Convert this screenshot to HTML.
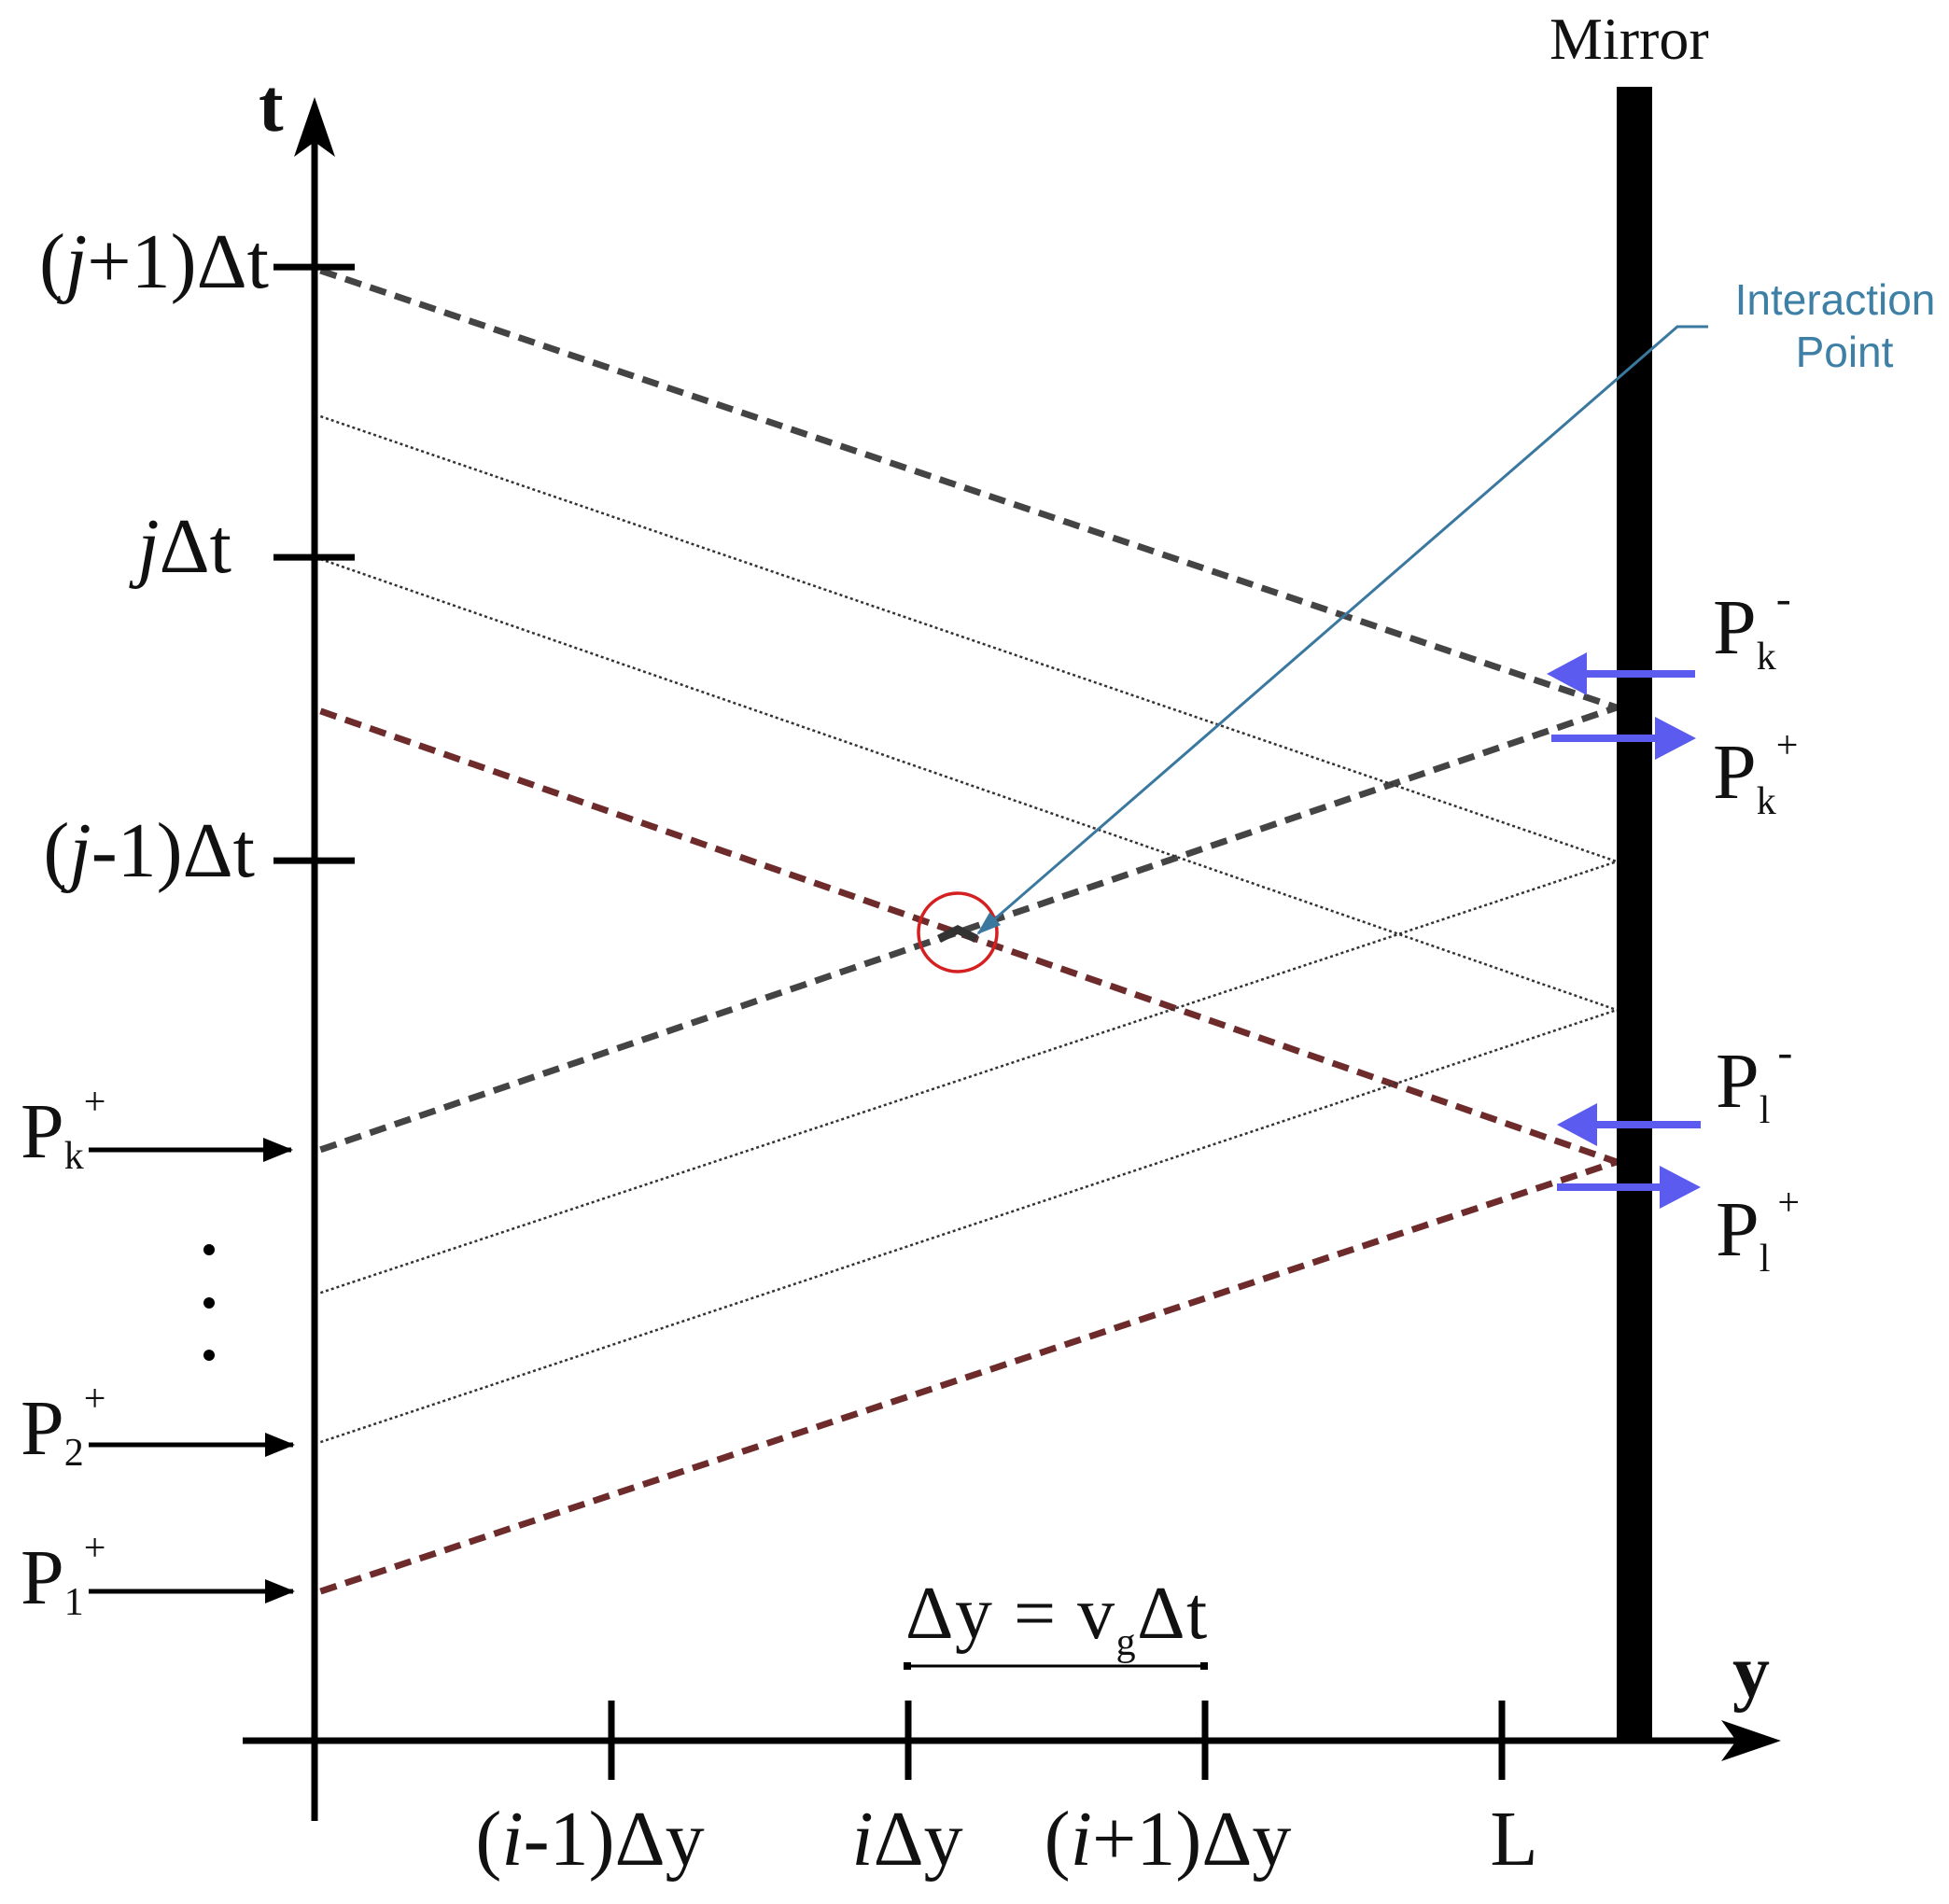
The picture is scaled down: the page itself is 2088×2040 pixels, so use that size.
<!DOCTYPE html>
<html><head><meta charset="utf-8"><style>
html,body{margin:0;padding:0;background:#fff;}
svg{display:block;}
.tm{font-family:"Liberation Serif",serif;fill:#111;}
</style></head><body>
<svg id="chart" width="2088" height="2040" viewBox="0 0 2088 2040" xmlns="http://www.w3.org/2000/svg">
<defs>
<marker id="ah" markerWidth="32" markerHeight="26" refX="30" refY="13" orient="auto" markerUnits="userSpaceOnUse"><path d="M0,0 L32,13 L0,26 z" fill="#000"/></marker>
<marker id="ahb" markerWidth="26" markerHeight="18" refX="24" refY="9" orient="auto" markerUnits="userSpaceOnUse"><path d="M0,0 L26,9 L0,18 z" fill="#3a78a0"/></marker>
</defs>
<g id="marks"></g>
<line x1="337" y1="1951" x2="337" y2="140" stroke="#000" stroke-width="7"/>
<path d="M337,104 L315,168 L337,152 L359,168 z" fill="#000"/>
<line x1="260" y1="1865" x2="1870" y2="1865" stroke="#000" stroke-width="7"/>
<path d="M1908,1865 L1844,1843 L1860,1865 L1844,1887 z" fill="#000"/>
<rect x="1732" y="93" width="38" height="1772" fill="#000"/>
<g id="ticks"></g>
<text class="tm" x="277" y="140" font-size="80" font-weight="bold">t</text>
<text class="tm" x="1856" y="1818" font-size="80" font-weight="bold">y</text>
<text class="tm" x="1660" y="63" font-size="64">Mirror</text>
<text class="tm" x="288" y="308" font-size="84" text-anchor="end">(<tspan font-style="italic">j</tspan>+1)Δt</text>
<text class="tm" x="248" y="613" font-size="84" text-anchor="end"><tspan font-style="italic">j</tspan>Δt</text>
<text class="tm" x="273" y="939" font-size="84" text-anchor="end">(<tspan font-style="italic">j</tspan>-1)Δt</text>
<text class="tm" x="632" y="1998" font-size="84" text-anchor="middle">(<tspan font-style="italic">i</tspan>-1)Δy</text>
<text class="tm" x="972" y="1998" font-size="84" text-anchor="middle"><tspan font-style="italic">i</tspan>Δy</text>
<text class="tm" x="1251" y="1998" font-size="84" text-anchor="middle">(<tspan font-style="italic">i</tspan>+1)Δy</text>
<text class="tm" x="1622" y="1998" font-size="84" text-anchor="middle">L</text>
<text class="tm" x="970" y="1755" font-size="80" letter-spacing="1.5">Δy = v<tspan font-size="42" dy="18">g</tspan><tspan dy="-18">Δt</tspan></text>
<line x1="972" y1="1785" x2="1290" y2="1785" stroke="#000" stroke-width="3"/>
<rect x="968" y="1781" width="8" height="8" fill="#000"/>
<rect x="1286" y="1781" width="8" height="8" fill="#000"/>
<text class="tm" x="22" y="1240" font-size="84">P<tspan font-size="42" dy="12">k</tspan><tspan font-size="42" dx="0" dy="-58">+</tspan></text>
<line x1="95" y1="1232" x2="312" y2="1232" stroke="#000" stroke-width="5" marker-end="url(#ah)"/>
<text class="tm" x="22" y="1558" font-size="84">P<tspan font-size="42" dy="12">2</tspan><tspan font-size="42" dx="0" dy="-58">+</tspan></text>
<line x1="95" y1="1548" x2="314" y2="1548" stroke="#000" stroke-width="5" marker-end="url(#ah)"/>
<text class="tm" x="22" y="1718" font-size="84">P<tspan font-size="42" dy="12">1</tspan><tspan font-size="42" dx="0" dy="-58">+</tspan></text>
<line x1="95" y1="1705" x2="314" y2="1705" stroke="#000" stroke-width="5" marker-end="url(#ah)"/>
<circle cx="224" cy="1339" r="6" fill="#000"/>
<circle cx="224" cy="1396" r="6" fill="#000"/>
<circle cx="224" cy="1452" r="6" fill="#000"/>
<g fill="#5b5bef" stroke="none">
<path d="M1816,718 L1700,718 L1700,699 L1657,722 L1700,745 L1700,726 L1816,726 z"/>
<path d="M1662,787 L1773,787 L1773,768 L1817,791 L1773,814 L1773,795 L1662,795 z"/>
<path d="M1822,1201 L1711,1201 L1711,1182 L1668,1205 L1711,1228 L1711,1209 L1822,1209 z"/>
<path d="M1668,1268 L1778,1268 L1778,1249 L1822,1272 L1778,1295 L1778,1276 L1668,1276 z"/>
</g>
<text class="tm" x="1835" y="700" font-size="84">P<tspan font-size="42" dy="17">k</tspan><tspan font-size="48" dx="0" dy="-60">-</tspan></text>
<text class="tm" x="1835" y="855" font-size="84">P<tspan font-size="42" dy="17">k</tspan><tspan font-size="42" dx="0" dy="-60">+</tspan></text>
<text class="tm" x="1838" y="1186" font-size="84">P<tspan font-size="42" dy="17">l</tspan><tspan font-size="48" dx="8" dy="-60">-</tspan></text>
<text class="tm" x="1838" y="1345" font-size="84">P<tspan font-size="42" dy="17">l</tspan><tspan font-size="42" dx="8" dy="-60">+</tspan></text>
<circle cx="1026" cy="999" r="42" fill="none" stroke="#d42020" stroke-width="3.5"/>
<path d="M1006,1006 L1026,996 L1046,1006" fill="none" stroke="#333" stroke-width="9"/>
<polyline points="1830,350 1797,350 1048,1000" fill="none" stroke="#3a78a0" stroke-width="3" marker-end="url(#ahb)"/>
<text x="1966" y="337" font-size="46" text-anchor="middle" font-family="Liberation Sans, sans-serif" fill="#3e7fa6">Interaction</text>
<text x="1976" y="393" font-size="46" text-anchor="middle" font-family="Liberation Sans, sans-serif" fill="#3e7fa6">Point</text>
</svg>
<script>
const lineStartY = [0.02, 0.02, 0.02, 0.02, 0.02, 0.02, 0.02, 0.02];
const lineEndY   = [4.387, 4.387, 4.387, 4.387, 4.387, 4.387, 4.387, 4.387];
const lineStartT = [4.953, 1.991, 3.469, 0.503, 4.462, 3.981, 1.509, 1.006];
const lineEndT   = [3.481, 3.481, 1.950, 1.950, 2.962, 2.462, 2.962, 2.462];
const lineKind   = ["gray", "gray", "red", "red", "dot", "dot", "dot", "dot"];
const lineNames  = ["pk-reflected", "pk-incident", "p1-reflected", "p1-incident", "dotted-reflected-1", "dotted-reflected-2", "dotted-incident-1", "dotted-incident-2"];
const yTicks = [1, 2, 3, 4];
const tTicks = [4.965, 3.987, 2.965];

const X0 = 337, Y0 = 1865, SX = 318, ST = 318;
function xs(v){ return X0 + v * SX; }
function ts(v){ return Y0 - v * ST; }
const NS = "http://www.w3.org/2000/svg";
const marks = document.getElementById('marks');
const styles = {
  gray: {stroke:"#444", w:7, dash:"18 10"},
  red:  {stroke:"#6e2b2b", w:7, dash:"18 10"},
  dot:  {stroke:"#333", w:2.5, dash:"3 3"}
};
for (let i = 0; i < lineStartY.length; i++) {
  const s = styles[lineKind[i]];
  const l = document.createElementNS(NS, 'line');
  l.setAttribute('x1', xs(lineStartY[i]));
  l.setAttribute('y1', ts(lineStartT[i]));
  l.setAttribute('x2', xs(lineEndY[i]));
  l.setAttribute('y2', ts(lineEndT[i]));
  l.setAttribute('stroke', s.stroke);
  l.setAttribute('stroke-width', s.w);
  l.setAttribute('stroke-dasharray', s.dash);
  
  
  marks.appendChild(l);
}
const ticks = document.getElementById('ticks');
yTicks.forEach(v => {
  const l = document.createElementNS(NS, 'line');
  l.setAttribute('x1', xs(v)); l.setAttribute('x2', xs(v));
  l.setAttribute('y1', Y0 - 43); l.setAttribute('y2', Y0 + 42);
  l.setAttribute('stroke', '#000'); l.setAttribute('stroke-width', 7);
  
  
  ticks.appendChild(l);
});
tTicks.forEach(v => {
  const l = document.createElementNS(NS, 'line');
  l.setAttribute('x1', 293); l.setAttribute('x2', 380);
  l.setAttribute('y1', ts(v)); l.setAttribute('y2', ts(v));
  l.setAttribute('stroke', '#000'); l.setAttribute('stroke-width', 7);
  
  
  ticks.appendChild(l);
});
</script>
</body></html>
